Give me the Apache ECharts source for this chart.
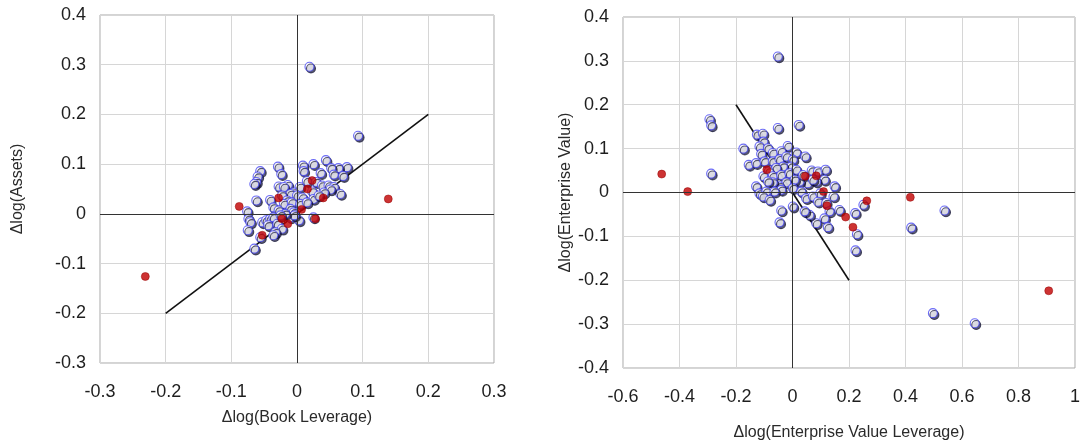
<!DOCTYPE html>
<html>
<head>
<meta charset="utf-8">
<script src="https://cdn.jsdelivr.net/npm/echarts@6/dist/echarts.min.js"></script>
<style>
  html, body { margin: 0; padding: 0; background: #ffffff; }
  #chart { width: 1085px; height: 446px; }
</style>
</head>
<body>
<div id="chart"></div>
<script>
// Left panel: change in log assets vs change in log book leverage
const bookLevBlue = [
  [0.019, 0.296], [0.093, 0.157], [0.044, 0.108], [0.025, 0.100], [0.009, 0.097],
  [0.076, 0.094], [0.063, 0.092], [0.052, 0.092], [0.056, 0.079], [0.070, 0.076],
  [0.036, 0.082], [0.010, 0.086], [-0.029, 0.095], [-0.024, 0.080], [-0.056, 0.086],
  [-0.060, 0.075], [-0.062, 0.064], [-0.065, 0.060], [-0.028, 0.055], [-0.014, 0.058],
  [-0.020, 0.054], [0.015, 0.066], [0.029, 0.064], [0.038, 0.057], [0.048, 0.057],
  [0.056, 0.054], [0.066, 0.040], [0.051, 0.049], [0.041, 0.043], [0.023, 0.045],
  [0.004, 0.054], [-0.005, 0.043], [-0.010, 0.040], [0.000, 0.037], [0.008, 0.033],
  [0.025, 0.030], [0.033, 0.037], [-0.062, 0.027], [-0.041, 0.028], [-0.023, 0.037],
  [-0.015, 0.027], [-0.020, 0.020], [-0.008, 0.023], [0.005, 0.020], [0.015, 0.023],
  [-0.036, 0.013], [-0.028, 0.007], [-0.010, 0.010], [-0.005, 0.003], [-0.076, 0.005],
  [-0.074, -0.010], [-0.071, -0.017], [-0.075, -0.033], [-0.053, -0.017], [-0.047, -0.013],
  [-0.041, -0.010], [-0.036, -0.007], [-0.044, -0.023], [-0.030, -0.020], [-0.023, -0.030],
  [-0.033, -0.037], [-0.036, -0.043], [-0.056, -0.047], [-0.065, -0.070], [-0.010, -0.007],
  [0.003, -0.013], [-0.004, -0.003], [0.025, -0.007], [-0.018, 0.000], [-0.025, -0.003]
];
const bookLevRed = [
  [-0.231, -0.126], [-0.088, 0.015], [-0.053, -0.043], [-0.028, 0.032], [-0.023, -0.010],
  [-0.014, -0.020], [0.007, 0.009], [0.016, 0.050], [0.023, 0.067], [0.040, 0.032],
  [0.028, -0.010], [0.139, 0.030]
];
const bookLevFit = [[-0.2, -0.2], [0.2, 0.2]];

// Right panel: change in log enterprise value vs change in log EV leverage
const evLevBlue = [
  [-0.052, 0.310], [-0.294, 0.167], [-0.288, 0.153], [-0.288, 0.043], [-0.174, 0.100],
  [-0.155, 0.063], [-0.126, 0.132], [-0.105, 0.134], [-0.103, 0.116], [-0.117, 0.105],
  [-0.087, 0.101], [-0.111, 0.088], [-0.070, 0.090], [-0.052, 0.147], [0.022, 0.154],
  [-0.017, 0.106], [0.013, 0.091], [0.045, 0.082], [-0.040, 0.094], [-0.129, 0.067],
  [-0.099, 0.071], [-0.070, 0.071], [-0.046, 0.076], [-0.022, 0.082], [0.001, 0.075],
  [-0.005, 0.059], [-0.034, 0.059], [-0.058, 0.056], [-0.084, 0.048], [-0.103, 0.037],
  [-0.070, 0.037], [-0.040, 0.040], [-0.011, 0.044], [0.013, 0.052], [0.068, 0.050],
  [0.090, 0.048], [0.117, 0.052], [0.113, 0.029], [0.084, 0.025], [0.054, 0.021],
  [0.025, 0.025], [0.007, 0.029], [-0.022, 0.023], [-0.046, 0.014], [-0.070, 0.023],
  [-0.087, 0.025], [-0.129, 0.014], [-0.117, -0.002], [-0.093, 0.002], [-0.105, -0.009],
  [-0.081, -0.017], [-0.040, 0.006], [0.001, 0.010], [0.031, 0.002], [0.048, -0.013],
  [0.072, -0.009], [0.098, -0.002], [0.090, -0.021], [0.119, -0.024], [0.149, 0.014],
  [0.145, -0.009], [0.131, -0.043], [0.113, -0.059], [0.125, -0.079], [0.084, -0.070],
  [0.060, -0.051], [0.043, -0.043], [0.001, -0.032], [-0.040, -0.041], [-0.046, -0.068],
  [0.166, -0.040], [0.222, -0.047], [0.228, -0.095], [0.223, -0.132], [0.251, -0.028],
  [0.420, -0.080], [0.538, -0.041], [0.497, -0.275], [0.645, -0.298], [0.037, 0.040],
  [0.072, 0.029], [-0.064, 0.002]
];
const evLevRed = [
  [-0.463, 0.042], [-0.371, 0.002], [-0.091, 0.052], [0.045, 0.037], [0.084, 0.038],
  [0.110, 0.002], [0.122, -0.030], [0.188, -0.056], [0.214, -0.079], [0.263, -0.019],
  [0.417, -0.011], [0.907, -0.224]
];
const evLevFit = [[-0.2, 0.2], [0.2, -0.2]];

const FONT = '"Liberation Sans", Arial, sans-serif';
const tickLabel = { fontFamily: FONT, fontSize: 18, color: '#1e1e1e' };
const titleText = { fontFamily: FONT, fontSize: 16, color: '#2a2a2a' };

// white bead with blue rim and a dark drop shadow to the lower right
const blueDot = {
  color: {
    type: 'radial', x: 0.4, y: 0.4, r: 0.7,
    colorStops: [
      { offset: 0, color: '#ffffff' },
      { offset: 0.65, color: '#f8f8ff' },
      { offset: 1, color: '#d0d0ff' }
    ]
  },
  borderColor: '#4646f2',
  borderWidth: 1.1,
  shadowColor: 'rgba(10,10,45,0.85)',
  shadowBlur: 0.5,
  shadowOffsetX: 1.5,
  shadowOffsetY: 1.8
};
const redDot = { color: '#c00000', borderColor: '#940000', borderWidth: 0.6 };

function valueAxis(idx, min, max, interval, name, gap, pos) {
  return {
    type: 'value', gridIndex: idx, min: min, max: max, interval: interval,
    name: name, nameLocation: 'middle', nameGap: gap, nameTextStyle: titleText,
    axisLine: { show: false, onZero: false },
    axisTick: { show: false },
    axisLabel: Object.assign({ margin: pos === 'x' ? 20 : 14 }, tickLabel),
    splitLine: { show: true, lineStyle: { color: '#d6d6d6', width: 1 } }
  };
}

const zeroLines = {
  silent: true,
  symbol: 'none',
  label: { show: false },
  lineStyle: { color: '#333333', width: 1, type: 'solid' },
  data: [{ xAxis: 0 }, { yAxis: 0 }]
};

const chart = echarts.init(document.getElementById('chart'), null, { renderer: 'canvas' });
chart.setOption({
  backgroundColor: '#ffffff',
  animation: false,
  grid: [
    { left: 100, top: 15, width: 394, height: 348, show: true, borderColor: '#a8a8a8', borderWidth: 1, backgroundColor: 'transparent' },
    { left: 623, top: 17, width: 452, height: 351, show: true, borderColor: '#a8a8a8', borderWidth: 1, backgroundColor: 'transparent' }
  ],
  xAxis: [
    valueAxis(0, -0.3, 0.3, 0.1, 'Δlog(Book Leverage)', 47, 'x'),
    valueAxis(1, -0.6, 1, 0.2, 'Δlog(Enterprise Value Leverage)', 57, 'x')
  ],
  yAxis: [
    valueAxis(0, -0.3, 0.4, 0.1, 'Δlog(Assets)', 74, 'y'),
    valueAxis(1, -0.4, 0.4, 0.1, 'Δlog(Enterprise Value)', 44, 'y')
  ],
  series: [
    {
      type: 'line', xAxisIndex: 0, yAxisIndex: 0, data: bookLevFit, symbol: 'none', z: 2,
      lineStyle: { color: '#111111', width: 1.6 }, markLine: zeroLines
    },
    {
      type: 'scatter', xAxisIndex: 0, yAxisIndex: 0, data: bookLevBlue, symbolSize: 9, z: 3,
      itemStyle: blueDot
    },
    {
      type: 'scatter', xAxisIndex: 0, yAxisIndex: 0, data: bookLevRed, symbolSize: 8, z: 4,
      itemStyle: redDot
    },
    {
      type: 'line', xAxisIndex: 1, yAxisIndex: 1, data: evLevFit, symbol: 'none', z: 2,
      lineStyle: { color: '#111111', width: 1.6 }, markLine: zeroLines
    },
    {
      type: 'scatter', xAxisIndex: 1, yAxisIndex: 1, data: evLevBlue, symbolSize: 9, z: 3,
      itemStyle: blueDot
    },
    {
      type: 'scatter', xAxisIndex: 1, yAxisIndex: 1, data: evLevRed, symbolSize: 8, z: 4,
      itemStyle: redDot
    }
  ]
});
</script>
</body>
</html>
